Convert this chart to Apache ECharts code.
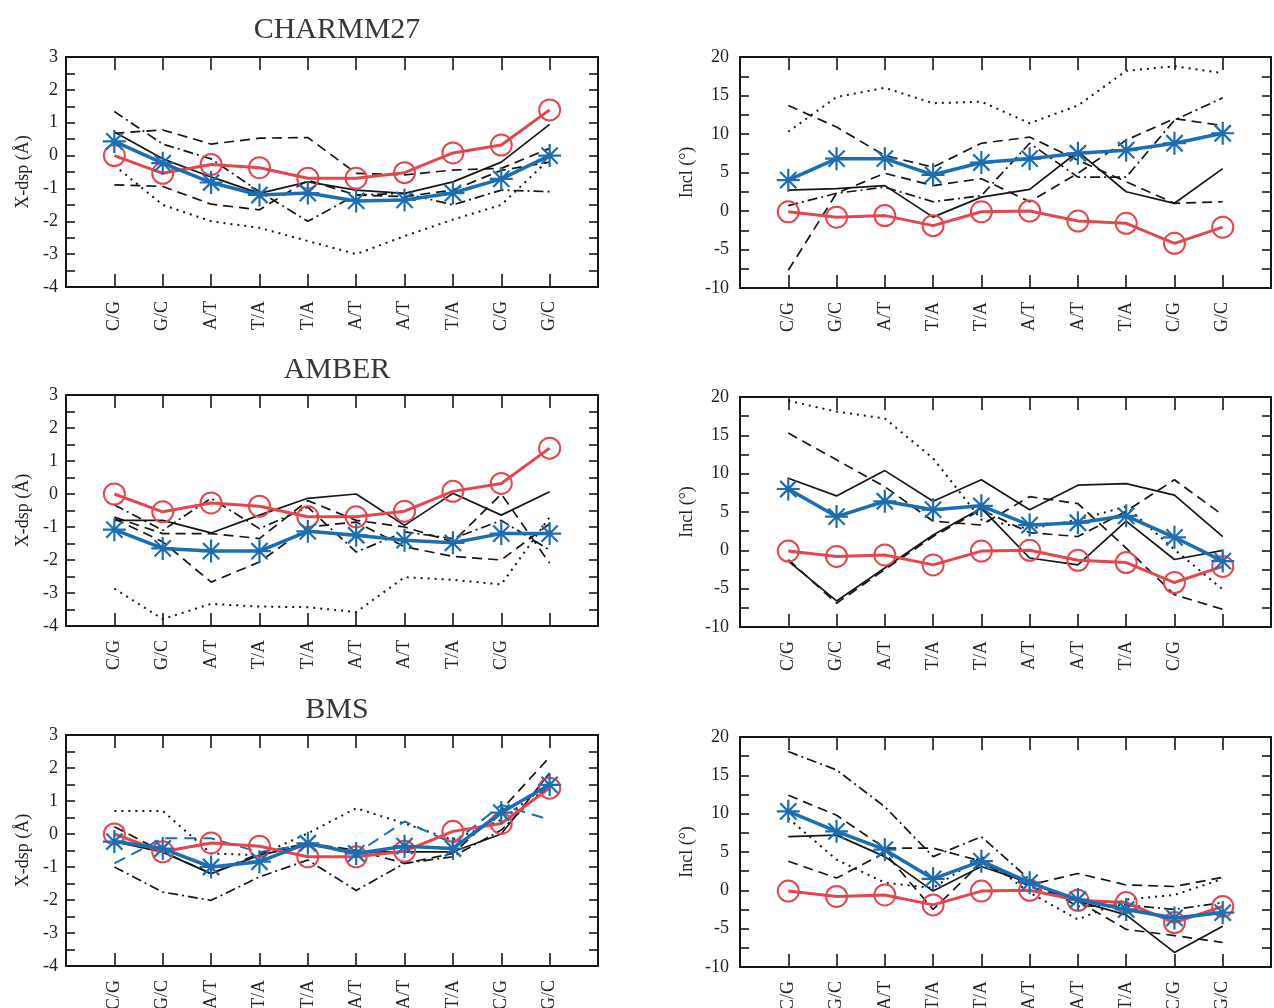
<!DOCTYPE html>
<html>
<head>
<meta charset="utf-8">
<script src="https://cdn.jsdelivr.net/npm/echarts@6/dist/echarts.min.js"></script>
<style>
html, body { margin: 0; padding: 0; background: #fff; }
#chart { width: 1274px; height: 1008px; }
</style>
</head>
<body>
<div id="chart"></div>
<script>
// base-pair step labels
var cats = ['C/G', 'G/C', 'A/T', 'T/A', 'T/A', 'A/T', 'A/T', 'T/A', 'C/G', 'G/C'];
var catsAmber = ['C/G', 'G/C', 'A/T', 'T/A', 'T/A', 'A/T', 'A/T', 'T/A', 'C/G', ''];
var titles = ['CHARMM27', 'AMBER', 'BMS'];

// reference (red circles), same in every panel of a column
var expXdsp = [0.0, -0.54, -0.27, -0.37, -0.69, -0.69, -0.52, 0.08, 0.32, 1.39];
var expIncl = [-0.1, -0.8, -0.6, -1.9, -0.1, 0.0, -1.3, -1.6, -4.2, -2.1];

// CHARMM27
var chXdspAvg = [0.43, -0.23, -0.82, -1.2, -1.14, -1.38, -1.35, -1.14, -0.71, 0.0];
var chXdspSolid = [0.72, -0.1, -0.65, -1.15, -0.8, -1.05, -1.15, -0.8, -0.2, 0.95];
var chXdspDashA = [0.68, 0.78, 0.35, 0.53, 0.55, -0.54, -0.59, -0.44, -0.39, 0.22];
var chXdspDashB = [-0.89, -0.94, -1.48, -1.65, -0.75, -1.2, -1.25, -1.05, -0.45, -0.2];
var chXdspDashDot = [1.34, 0.35, -0.1, -1.1, -2.0, -1.2, -1.15, -1.5, -1.05, -1.1];
var chXdspDot = [-0.3, -1.5, -2.0, -2.2, -2.6, -3.0, -2.45, -1.95, -1.5, -0.1];

var chInclAvg = [4.0, 6.8, 6.8, 4.7, 6.3, 6.8, 7.5, 7.9, 8.8, 10.1];
var chInclSolid = [2.7, 2.9, 3.3, -0.8, 1.8, 2.8, 7.7, 2.5, 1.0, 5.5];
var chInclDashA = [13.7, 10.9, 7.2, 5.7, 8.8, 9.6, 6.6, 3.8, 1.0, 1.2];
var chInclDashB = [-7.7, 2.3, 4.9, 3.3, 4.2, 1.2, 4.9, 9.2, 12.0, 11.1];
var chInclDashDot = [0.7, 2.3, 3.1, 1.2, 2.0, 8.8, 4.4, 4.4, 11.8, 14.7];
var chInclDot = [10.3, 14.8, 16.0, 14.0, 14.2, 11.4, 13.7, 18.2, 18.8, 17.9];

// AMBER
var amXdspAvg = [-1.08, -1.65, -1.73, -1.73, -1.13, -1.25, -1.4, -1.48, -1.2, -1.2];
var amXdspSolid = [-0.8, -0.8, -1.18, -0.64, -0.13, 0.0, -0.95, 0.02, -0.64, 0.07];
var amXdspDashA = [-0.7, -1.2, -1.2, -1.35, -0.2, -0.8, -1.0, -1.45, 0.0, -2.1];
var amXdspDashB = [-0.75, -1.45, -2.67, -2.06, -1.0, -0.85, -1.6, -1.89, -2.0, -0.9];
var amXdspDashDot = [-0.33, -1.1, -0.13, -1.05, -0.4, -1.76, -1.15, -1.35, -0.8, -1.7];
var amXdspDot = [-2.87, -3.79, -3.33, -3.41, -3.43, -3.58, -2.52, -2.6, -2.74, -0.7];

var amInclAvg = [8.0, 4.4, 6.4, 5.3, 5.8, 3.3, 3.6, 4.5, 1.7, -1.4];
var amInclSolidA = [9.4, 7.1, 10.4, 6.4, 9.2, 5.3, 8.5, 8.7, 7.2, 1.8];
var amInclSolidB = [-1.4, -6.6, -2.3, 2.0, 5.5, -1.0, -1.9, 3.8, -1.2, 0.0];
var amInclDashA = [15.3, 11.8, 8.3, 3.8, 3.3, 7.0, 6.1, 0.3, -5.8, -7.7];
var amInclDashB = [-1.2, -6.9, -2.5, 1.8, 5.3, 2.3, 1.8, 5.1, 9.2, 4.6];
var amInclDot = [19.5, 18.1, 17.2, 12.0, 4.0, 2.8, 4.0, 5.7, 0.1, -5.1];

// BMS
var bmXdspAvg = [-0.23, -0.44, -1.0, -0.84, -0.28, -0.59, -0.37, -0.44, 0.65, 1.49];
var bmXdspBlueDash = [-0.89, -0.13, -0.13, -0.55, -0.3, -0.59, 0.38, -0.28, 0.88, 0.43];
var bmXdspSolid = [-0.23, -0.55, -1.2, -0.64, -0.33, -0.54, -0.54, -0.54, 0.0, 1.85];
var bmXdspDash = [0.22, -0.54, -1.2, -0.59, -0.28, -0.49, -0.89, -0.59, 0.73, 2.33];
var bmXdspDot = [0.7, 0.7, -0.59, -0.64, 0.02, 0.78, 0.32, -0.18, 0.43, 1.54];
var bmXdspDashDot = [-1.0, -1.76, -2.01, -1.3, -0.79, -1.71, -0.89, -0.69, 0.12, 1.54];

var bmInclAvg = [10.3, 7.7, 5.3, 1.5, 3.8, 1.0, -1.2, -2.5, -3.6, -2.9];
var bmInclDashDot = [18.1, 15.7, 10.9, 4.4, 7.0, 1.4, -2.1, -1.9, -2.5, -1.6];
var bmInclDashA = [12.4, 9.8, 5.5, 5.5, 3.8, 0.7, 2.2, 0.7, 0.5, 1.7];
var bmInclDashB = [3.8, 1.6, 4.9, -2.5, 3.6, 0.5, -1.4, -5.1, -5.9, -6.8];
var bmInclSolid = [7.0, 7.2, 4.4, -0.1, 3.1, 1.0, -1.4, -3.2, -8.1, -4.7];
var bmInclDot = [9.4, 4.0, 1.0, 0.3, 4.4, -0.3, -3.8, -1.2, -0.6, 1.5];

var SERIF = 'Liberation Serif';
var INK = '#161616';
var BLUE = '#1c6db2';
var RED = '#e3474e';
var SOLID = 'solid', DASH = [10, 6], DOT = [2, 5], DASHDOT = [10, 4, 2, 4];
var STAR = 'path://M0,-10L0,10M-10,0L10,0M-7.07,-7.07L7.07,7.07M-7.07,7.07L7.07,-7.07';

var grids = [
    {left: 66, top: 57, width: 532, height: 230},
    {left: 740, top: 57, width: 531, height: 231},
    {left: 66, top: 395, width: 532, height: 231},
    {left: 740, top: 397, width: 531, height: 230},
    {left: 66, top: 735, width: 532, height: 231},
    {left: 740, top: 737, width: 531, height: 230}
].map(function (g) {
    g.outerBoundsMode = 'none';
    g.containLabel = false;
    return g;
});

var panels = [
    {labels: cats, incl: false, exp: expXdsp, avg: chXdspAvg,
        black: [[chXdspSolid, SOLID], [chXdspDashA, DASH], [chXdspDashB, DASH], [chXdspDashDot, DASHDOT], [chXdspDot, DOT]]},
    {labels: cats, incl: true, exp: expIncl, avg: chInclAvg,
        black: [[chInclSolid, SOLID], [chInclDashA, DASH], [chInclDashB, DASH], [chInclDashDot, DASHDOT], [chInclDot, DOT]]},
    {labels: catsAmber, incl: false, exp: expXdsp, avg: amXdspAvg,
        black: [[amXdspSolid, SOLID], [amXdspDashA, DASH], [amXdspDashB, DASH], [amXdspDashDot, DASHDOT], [amXdspDot, DOT]]},
    {labels: catsAmber, incl: true, exp: expIncl, avg: amInclAvg,
        black: [[amInclSolidA, SOLID], [amInclSolidB, SOLID], [amInclDashA, DASH], [amInclDashB, DASH], [amInclDot, DOT]]},
    {labels: cats, incl: false, exp: expXdsp, avg: bmXdspAvg, blueDash: bmXdspBlueDash,
        black: [[bmXdspSolid, SOLID], [bmXdspDash, DASH], [bmXdspDot, DOT], [bmXdspDashDot, DASHDOT]]},
    {labels: cats, incl: true, exp: expIncl, avg: bmInclAvg,
        black: [[bmInclSolid, SOLID], [bmInclDashA, DASH], [bmInclDashB, DASH], [bmInclDashDot, DASHDOT], [bmInclDot, DOT]]}
];

function toPoints(values) {
    return values.map(function (v, i) { return [i + 1, v]; });
}

var frameLine = {onZero: false, lineStyle: {color: INK, width: 2}};
var xAxes = [], yAxes = [], series = [];

panels.forEach(function (p, k) {
    var labels = p.labels;
    var xTick = {inside: true, length: 13, lineStyle: {color: INK, width: 1.6}};
    xAxes.push({
        type: 'value', gridIndex: k, min: 0, max: 11, interval: 1, position: 'bottom',
        axisLine: frameLine, axisTick: xTick, splitLine: {show: false},
        axisLabel: {
            rotate: 90, margin: 14, fontFamily: SERIF, fontSize: 18, color: '#222',
            formatter: function (v) { return labels[v - 1] || ''; }
        }
    });
    xAxes.push({
        type: 'value', gridIndex: k, min: 0, max: 11, interval: 1, position: 'top',
        axisLine: frameLine, axisTick: xTick, splitLine: {show: false}, axisLabel: {show: false}
    });

    var yTick = {inside: true, length: 9, lineStyle: {color: INK, width: 1.6}};
    var yMinor = {show: true, splitNumber: 2, length: 9, lineStyle: {color: INK, width: 1.6}};
    var yr = p.incl ? {min: -10, max: 20, interval: 5} : {min: -4, max: 3, interval: 1};
    yAxes.push({
        type: 'value', gridIndex: k, min: yr.min, max: yr.max, interval: yr.interval, position: 'left',
        name: p.incl ? 'Incl (°)' : 'X-dsp (Å)', nameLocation: 'middle', nameGap: p.incl ? 44 : 34,
        nameTextStyle: {fontFamily: SERIF, fontSize: 18, color: '#222'},
        axisLine: frameLine, axisTick: yTick, minorTick: yMinor,
        splitLine: {show: false}, minorSplitLine: {show: false},
        axisLabel: {margin: p.incl ? 11 : 8, fontFamily: SERIF, fontSize: 18, color: '#222'}
    });
    yAxes.push({
        type: 'value', gridIndex: k, min: yr.min, max: yr.max, interval: yr.interval, position: 'right',
        axisLine: frameLine, axisTick: yTick, minorTick: yMinor,
        splitLine: {show: false}, minorSplitLine: {show: false}, axisLabel: {show: false}
    });

    p.black.forEach(function (b) {
        series.push({
            type: 'line', xAxisIndex: 2 * k, yAxisIndex: 2 * k, data: toPoints(b[0]),
            symbol: 'none', silent: true, z: 2,
            lineStyle: {color: INK, width: b[1] === DOT ? 2 : 1.7, type: b[1]}
        });
    });
    if (p.blueDash) {
        series.push({
            type: 'line', xAxisIndex: 2 * k, yAxisIndex: 2 * k, data: toPoints(p.blueDash),
            symbol: 'none', silent: true, z: 3,
            lineStyle: {color: BLUE, width: 2, type: [12, 7]}
        });
    }
    series.push({
        type: 'line', xAxisIndex: 2 * k, yAxisIndex: 2 * k, data: toPoints(p.exp),
        symbol: 'circle', symbolSize: 21, silent: true, z: 4,
        lineStyle: {color: RED, width: 3},
        itemStyle: {color: 'transparent', borderColor: RED, borderWidth: 2}
    });
    series.push({
        type: 'line', xAxisIndex: 2 * k, yAxisIndex: 2 * k, data: toPoints(p.avg),
        symbol: STAR, symbolSize: 23, silent: true, z: 5,
        lineStyle: {color: BLUE, width: 3.5},
        itemStyle: {color: 'transparent', borderColor: BLUE, borderWidth: 2.2}
    });
});

var titleList = titles.map(function (t, i) {
    return {
        text: t, left: 332, top: 10 + i * 340, textAlign: 'center',
        textStyle: {fontFamily: SERIF, fontSize: 30, fontWeight: 'normal', color: '#383838'}
    };
});

var myChart = echarts.init(document.getElementById('chart'));
myChart.setOption({
    backgroundColor: '#fff',
    animation: false,
    title: titleList,
    grid: grids,
    xAxis: xAxes,
    yAxis: yAxes,
    series: series
});
</script>
</body>
</html>
